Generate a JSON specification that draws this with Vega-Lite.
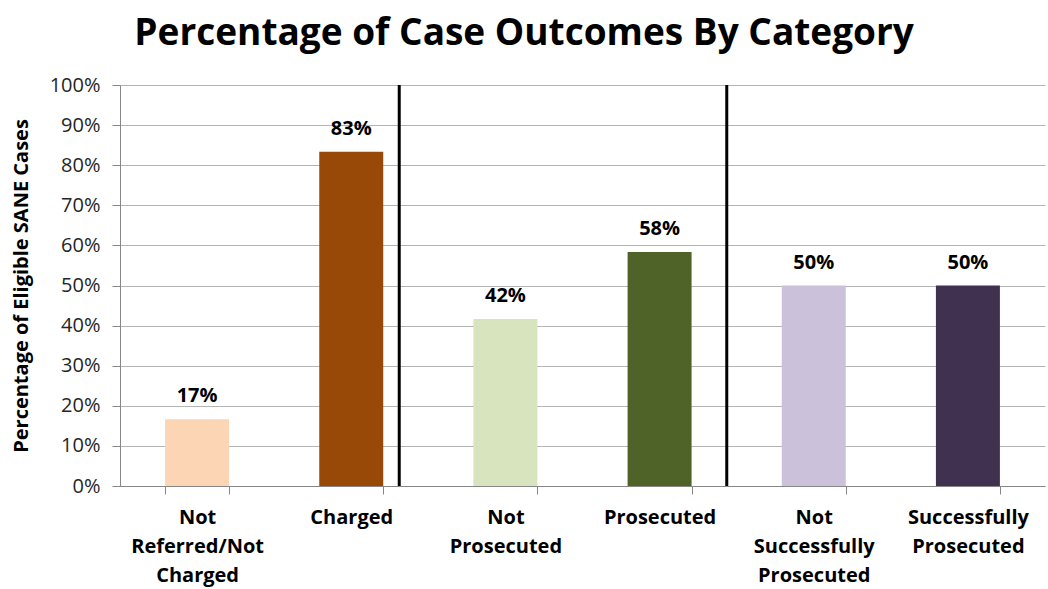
{
  "$schema": "https://vega.github.io/schema/vega-lite/v6.json",
  "autosize": "none",
  "width": 925,
  "height": 401,
  "padding": {"left": 120, "top": 85, "right": 3, "bottom": 103},
  "background": "white",
  "title": {
    "text": "Percentage of Case Outcomes By Category",
    "frame": "bounds",
    "anchor": "middle",
    "font": "Open Sans",
    "fontSize": 37,
    "fontWeight": "bold",
    "color": "black",
    "offset": 22,
    "dx": -4
  },
  "data": {
    "values": [
      {"cat": "Not Referred/Not Charged", "pct": 0.1667},
      {"cat": "Charged", "pct": 0.8333},
      {"cat": "Not Prosecuted", "pct": 0.4167},
      {"cat": "Prosecuted", "pct": 0.5833},
      {"cat": "Not Successfully Prosecuted", "pct": 0.5},
      {"cat": "Successfully Prosecuted", "pct": 0.5}
    ]
  },
  "config": {
    "view": {"stroke": null},
    "axis": {"labelFont": "Open Sans", "titleFont": "Open Sans"}
  },
  "encoding": {
    "x": {
      "field": "cat",
      "type": "nominal",
      "sort": null,
      "scale": {"paddingInner": 0.585, "paddingOuter": 0.2925},
      "axis": {
        "title": null,
        "labelAngle": 0,
        "labelExpr": "split(datum.label, ' ')",
        "labelFontSize": 20,
        "labelFontWeight": "bold",
        "labelColor": "black",
        "labelLineHeight": 29,
        "labelPadding": 13,
        "labelBaseline": "top",
        "tickBand": "extent",
        "tickSize": 8,
        "tickColor": "#868686",
        "domainColor": "#868686",
        "labelLimit": 300,
        "labelOverlap": false
      }
    }
  },
  "layer": [
    {
      "mark": {"type": "bar"},
      "encoding": {
        "y": {
          "field": "pct",
          "type": "quantitative",
          "scale": {"domain": [0, 1]},
          "axis": {
            "title": "Percentage of Eligible SANE Cases",
            "titleFontSize": 20,
            "titleFontWeight": "bold",
            "titleColor": "black",
            "titlePadding": 18,
            "format": ".0%",
            "values": [0, 0.1, 0.2, 0.3, 0.4, 0.5, 0.6, 0.7, 0.8, 0.9, 1.0],
            "labelOverlap": false,
            "labelFontSize": 20,
            "labelColor": "#262626",
            "labelPadding": 12,
            "tickSize": 8,
            "tickColor": "#868686",
            "domainColor": "#868686",
            "grid": true,
            "gridColor": "#B4B4B4",
            "gridWidth": 1
          }
        },
        "color": {
          "field": "cat",
          "type": "nominal",
          "sort": null,
          "legend": null,
          "scale": {
            "domain": ["Not Referred/Not Charged", "Charged", "Not Prosecuted", "Prosecuted", "Not Successfully Prosecuted", "Successfully Prosecuted"],
            "range": ["#FCD5B5", "#984807", "#D7E4BD", "#4F6228", "#CCC1DA", "#403151"]
          }
        }
      }
    },
    {
      "mark": {"type": "text", "font": "Open Sans", "fontSize": 20, "fontWeight": "bold", "color": "black", "dy": -17, "baseline": "alphabetic"},
      "encoding": {
        "y": {"field": "pct", "type": "quantitative"},
        "text": {"field": "pct", "type": "quantitative", "format": ".0%"}
      }
    },
    {
      "transform": [{"filter": "datum.cat === 'Charged'"}],
      "mark": {"type": "rule", "color": "black", "strokeWidth": 3},
      "encoding": {
        "x": {"field": "cat", "type": "nominal", "sort": null, "bandPosition": 1.25},
        "y": {"datum": 0},
        "y2": {"datum": 1}
      }
    },
    {
      "transform": [{"filter": "datum.cat === 'Prosecuted'"}],
      "mark": {"type": "rule", "color": "black", "strokeWidth": 3},
      "encoding": {
        "x": {"field": "cat", "type": "nominal", "sort": null, "bandPosition": 1.55},
        "y": {"datum": 0},
        "y2": {"datum": 1}
      }
    }
  ]
}
